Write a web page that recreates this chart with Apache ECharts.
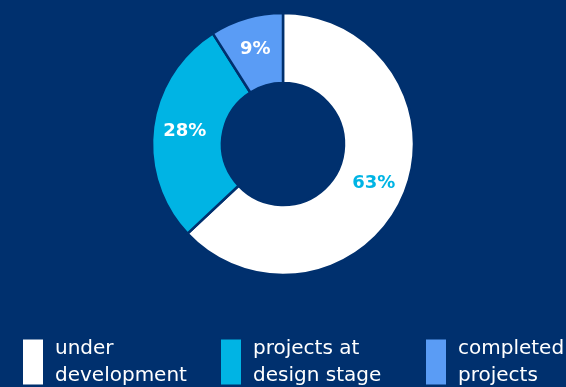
<!DOCTYPE html>
<html>
<head>
<meta charset="utf-8">
<script src="https://cdn.jsdelivr.net/npm/echarts@6/dist/echarts.min.js"></script>
<style>
  html, body { margin: 0; padding: 0; background: #00306e; }
  #chart { width: 566px; height: 387px; }
</style>
</head>
<body>
<div id="chart"></div>
<script>
// Project status shares (percent)
const categories = ['under\ndevelopment', 'projects at\ndesign stage', 'completed\nprojects'];
const shares = [63, 28, 9];
const sliceColors = ['#ffffff', '#00b4e4', '#5a9cf5'];
const labelColors = ['#00b4e4', '#ffffff', '#ffffff'];
const legendLeft = [21, 219, 424];

const bg = '#00306e';
const chart = echarts.init(document.getElementById('chart'), null, { renderer: 'canvas' });

const data = categories.map((name, i) => ({
  name,
  value: shares[i],
  itemStyle: { color: sliceColors[i] },
  label: { color: labelColors[i] }
}));

const legends = categories.map((name, i) => ({
  data: [name],
  left: legendLeft[i],
  top: 335,
  orient: 'horizontal',
  padding: 0,
  itemWidth: 22,
  itemHeight: 47,
  icon: 'rect',
  selectedMode: false,
  textStyle: {
    color: '#ffffff',
    fontFamily: 'DejaVu Sans',
    fontSize: 20,
    lineHeight: 27,
    padding: [0, 0, 0, 6]
  }
}));

chart.setOption({
  backgroundColor: bg,
  animation: false,
  legend: legends,
  series: [{
    type: 'pie',
    center: [283, 144],
    radius: [61, 131],
    startAngle: 90,
    clockwise: true,
    avoidLabelOverlap: false,
    itemStyle: { borderColor: bg, borderWidth: 2.5 },
    label: {
      show: true,
      position: 'inside',
      formatter: '{c}%',
      fontFamily: 'DejaVu Sans',
      fontWeight: 'bold',
      fontSize: 18
    },
    labelLine: { show: false },
    emphasis: { disabled: true },
    data
  }]
});
</script>
</body>
</html>
